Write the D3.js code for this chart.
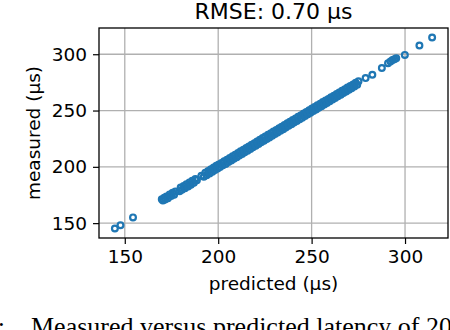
<html>
<head>
<meta charset="utf-8">
<style>
  body { margin: 0; background: #fff; }
  text { font-family: "DejaVu Sans", sans-serif; fill: #000; }
  .grid line { stroke: #b0b0b0; stroke-width: 1.3; }
  .axis path { display: none; }
  .axis line { stroke: #000; stroke-width: 1.2; }
  .axis text { font-size: 18.5px; }
</style>
<script src="https://cdn.jsdelivr.net/npm/d3@7"></script>
</head>
<body>
<svg id="chart" width="450" height="330"></svg>
<script>
// predicted vs measured latency (µs)
let predicted = [144.7, 147.7, 154.4,
  169.8, 170.4, 171.1, 171.6, 172.3, 173.1, 174.0, 174.8, 175.6, 176.4, 177.1,
  179.3, 179.9, 180.6, 181.5, 182.2, 183.0, 183.9, 184.6, 185.4, 186.1, 187.0, 187.8, 188.6,
  191.0, 192.3, 193.1, 193.8, 194.6, 195.4, 196.1, 196.9, 197.6, 198.3, 199.0, 199.7, 200.3,
  201.0, 201.8, 202.5, 203.2, 204.0, 204.7, 205.5, 206.2, 207.0, 207.7, 208.4, 209.1, 209.9,
  210.6, 211.3, 212.0, 212.8, 213.5, 214.2, 215.0, 215.7, 216.4, 217.2, 217.9, 218.6, 219.4,
  220.1, 220.8, 221.6, 222.3, 223.0, 223.8, 224.5, 225.2, 226.0, 226.7, 227.4, 228.2, 228.9,
  229.6, 230.4, 231.1, 231.8, 232.6, 233.3, 234.0, 234.8, 235.5, 236.2, 237.0, 237.7, 238.4,
  239.2, 239.9, 240.6, 241.4, 242.1, 242.8, 243.6, 244.3, 245.0, 245.8, 246.5, 247.2, 248.0,
  248.7, 249.4, 250.2, 250.9, 251.6, 252.4, 253.1, 253.8, 254.6, 255.3, 256.0, 256.8, 257.5,
  258.2, 259.0, 259.7, 260.4, 261.2, 261.9, 262.6, 263.4, 264.1, 264.8, 265.6, 266.3, 267.0,
  267.8, 268.5, 269.2, 270.0, 270.7, 271.4, 272.2, 272.9, 273.6, 274.4, 275.1,
  278.9, 282.5, 287.6, 290.9, 292.2, 293.3, 294.3, 295.3, 299.9, 307.7, 314.5]

let measured = [145.3, 148.2, 155.1,
  171.2, 170.0, 172.6, 170.9, 173.7, 172.2, 175.5, 174.0, 177.0, 175.3, 178.1,
  178.4, 181.6, 179.7, 183.0, 181.0, 184.5, 182.6, 186.2, 184.1, 187.6, 185.8, 189.1, 188.0,
  192.0, 191.2, 194.8, 192.5, 196.3, 194.0, 197.8, 195.7, 199.3, 197.1, 200.9, 198.5, 202.1,
  199.8, 203.5, 201.3, 204.9, 202.6, 206.4, 204.2, 207.8, 205.6, 209.4, 207.1, 210.8, 208.5,
  212.3, 210.0, 213.8, 211.4, 215.2, 213.0, 216.7, 214.3, 218.1, 215.9, 219.6, 217.4, 221.0,
  218.8, 222.6, 220.2, 224.0, 221.8, 225.5, 223.1, 226.9, 224.7, 228.4, 226.1, 229.8, 227.6,
  231.3, 229.1, 232.7, 230.5, 234.3, 232.0, 235.7, 233.4, 237.2, 234.9, 238.6, 236.4, 240.1,
  237.8, 241.5, 239.3, 243.0, 240.8, 244.4, 242.2, 245.9, 243.7, 247.3, 245.1, 248.8, 246.6,
  250.2, 248.0, 251.7, 249.5, 253.1, 250.9, 254.6, 252.4, 256.0, 253.8, 257.5, 255.3, 258.9,
  256.8, 260.3, 258.2, 261.8, 259.7, 263.2, 261.1, 264.7, 262.6, 266.1, 264.0, 267.5, 265.5,
  269.0, 266.9, 270.4, 268.4, 271.8, 269.8, 273.2, 271.3, 274.6, 272.8, 276.0,
  278.8, 281.8, 287.8, 292.0, 293.6, 294.9, 295.6, 296.4, 299.4, 307.7, 314.8]

let xTicks = [150, 200, 250, 300]
let yTicks = [150, 200, 250, 300]
let title = "RMSE: 0.70 µs"

let svg = d3.select("#chart")
let mLeft = 99, mRight = 448, mTop = 28, mBottom = 238

let xScale = d3.scaleLinear().domain([136.2, 323.0]).range([mLeft, mRight])
let yScale = d3.scaleLinear().domain([136.8, 323.3]).range([mBottom, mTop])

// grid
let grid = svg.append("g").attr("class", "grid")
grid.selectAll(".gx").data(xTicks).enter().append("line")
    .attr("x1", d => xScale(d)).attr("x2", d => xScale(d))
    .attr("y1", mTop).attr("y2", mBottom)
grid.selectAll(".gy").data(yTicks).enter().append("line")
    .attr("y1", d => yScale(d)).attr("y2", d => yScale(d))
    .attr("x1", mLeft).attr("x2", mRight)

// points
let data = predicted.map((p, i) => ({ p: p, m: measured[i] }))
svg.append("g").selectAll("circle").data(data).enter().append("circle")
    .attr("cx", d => xScale(d.p))
    .attr("cy", d => yScale(d.m))
    .attr("r", 2.9)
    .attr("fill", "none")
    .attr("stroke", "#1f77b4")
    .attr("stroke-width", 2.2)

// axes
svg.append("g").attr("class", "axis")
    .attr("transform", "translate(0," + mBottom + ")")
    .call(d3.axisBottom(xScale).tickValues(xTicks).tickSize(6).tickPadding(6))
svg.append("g").attr("class", "axis")
    .attr("transform", "translate(" + mLeft + ",0)")
    .call(d3.axisLeft(yScale).tickValues(yTicks).tickSize(6).tickPadding(6))

// frame
svg.append("rect")
    .attr("x", mLeft).attr("y", mTop)
    .attr("width", mRight - mLeft).attr("height", mBottom - mTop)
    .attr("fill", "none").attr("stroke", "#000").attr("stroke-width", 1.3)

// labels
svg.append("text").attr("x", (mLeft + mRight) / 2).attr("y", 18.5)
    .attr("text-anchor", "middle").style("font-size", "22px").text(title)
svg.append("text").attr("x", (mLeft + mRight) / 2).attr("y", 290)
    .attr("text-anchor", "middle").style("font-size", "18.5px").text("predicted (µs)")
svg.append("text")
    .attr("transform", "translate(40," + (mTop + mBottom) / 2 + ") rotate(-90)")
    .attr("text-anchor", "middle").style("font-size", "18.5px").text("measured (µs)")

// cut-off caption under the figure
svg.append("text").attr("x", 5).attr("y", 335).attr("text-anchor", "end")
    .style("font-family", "Liberation Serif").style("font-size", "26px").text("5:")
svg.append("text").attr("x", 31).attr("y", 335)
    .style("font-family", "Liberation Serif").style("font-size", "26px")
    .text("Measured versus predicted latency of 200")
</script>
</body>
</html>
